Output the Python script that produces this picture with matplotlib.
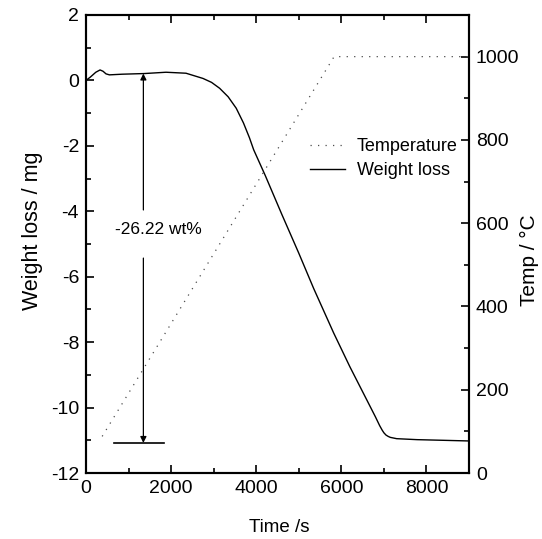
import matplotlib
matplotlib.use('Agg')
from matplotlib import pyplot as plt
from matplotlib.lines import Line2D
from matplotlib.ticker import MultipleLocator

# TGA run: weight loss (mg) and furnace temperature (°C) against time (s)
time_wl = [0, 100, 230, 330, 400, 470, 550, 850, 1370, 1880, 2350, 2750, 2950, 3140,
           3340, 3530, 3700, 3840, 3940, 4210, 4600, 5000, 5350, 5820, 6200, 6600,
           6800, 6900, 6960, 7000, 7050, 7100, 7150, 7300, 7780, 8400, 9000]
weight_loss = [0.0, 0.1, 0.25, 0.32, 0.28, 0.2, 0.17, 0.19, 0.21, 0.25, 0.22, 0.06, -0.06, -0.24,
               -0.5, -0.85, -1.3, -1.75, -2.12, -2.9, -4.09, -5.28, -6.36, -7.72, -8.75, -9.77,
               -10.28, -10.55, -10.69, -10.77, -10.84, -10.88, -10.91, -10.95, -10.98, -11.0, -11.02]

time_temp = [380, 5830, 9000]
temperature = [88, 1000, 1000]

loss_label = '-26.22 wt%'
loss_top = 0.21
loss_bottom = -11.08

plt.rcParams['font.family'] = ['Liberation Sans', 'DejaVu Sans']
plt.rcParams['axes.unicode_minus'] = False

fig = plt.figure(figsize=(5.42, 5.39), dpi=100)
ax = fig.add_axes([0.1587, 0.1224, 0.7066, 0.8498])
ax2 = ax.twinx()

ax.plot(time_wl, weight_loss, color='black', lw=1.0)
ax2.plot(time_temp, temperature, color='0.3', lw=0.9, linestyle=(0, (1, 5)))

ax.set_xlim(0, 9000)
ax.set_ylim(-12, 2)
ax2.set_ylim(0, 1100)

ax.xaxis.set_major_locator(MultipleLocator(2000))
ax.xaxis.set_minor_locator(MultipleLocator(1000))
ax.yaxis.set_major_locator(MultipleLocator(2))
ax.yaxis.set_minor_locator(MultipleLocator(1))
ax2.yaxis.set_major_locator(MultipleLocator(200))
ax2.yaxis.set_minor_locator(MultipleLocator(100))

ax.tick_params(which='both', direction='in', top=True, right=False, width=1.2, labelsize=14)
ax.tick_params(which='major', length=6, pad=5)
ax.tick_params(which='minor', length=3.5)
ax2.tick_params(which='both', direction='in', width=1.2, labelsize=14)
ax2.tick_params(which='major', length=6, pad=5)
ax2.tick_params(which='minor', length=3.5)

for a in (ax, ax2):
    for s in a.spines.values():
        s.set_linewidth(1.5)

ax.set_xlabel('Time /s', fontsize=13.5)
ax.set_ylabel('Weight loss / mg', fontsize=15.5)
ax2.set_ylabel('Temp / °C', fontsize=15, rotation=90)
ax.xaxis.set_label_coords(0.505, -0.1)
ax.yaxis.set_label_coords(-0.112, 0.528)
ax2.yaxis.set_label_coords(1.132, 0.465)

# double arrow for the total loss, split around the label
arrow_x = 1348
ax.annotate('', xy=(arrow_x, loss_top), xytext=(arrow_x, -3.96),
            arrowprops=dict(arrowstyle='-|>', color='black', lw=0.9,
                            mutation_scale=9, shrinkA=0, shrinkB=0))
ax.annotate('', xy=(arrow_x, loss_bottom), xytext=(arrow_x, -5.43),
            arrowprops=dict(arrowstyle='-|>', color='black', lw=0.9,
                            mutation_scale=9, shrinkA=0, shrinkB=0))
ax.plot([666, 1840], [loss_bottom, loss_bottom], color='black', lw=1.2)
ax.text(1694, -4.56, loss_label, ha='center', va='center', fontsize=12.5)

handles = [Line2D([], [], color='0.3', lw=0.9, linestyle=(0, (1, 5))),
           Line2D([], [], color='black', lw=1.0)]
ax.legend(handles, ['Temperature', 'Weight loss'], loc='upper left',
          bbox_to_anchor=(0.585, 0.731), frameon=False, handlelength=1.95,
          handletextpad=0.65, labelspacing=0.4, borderaxespad=0, borderpad=0,
          prop={'size': 13})

fig.savefig('out.png', dpi=100)
